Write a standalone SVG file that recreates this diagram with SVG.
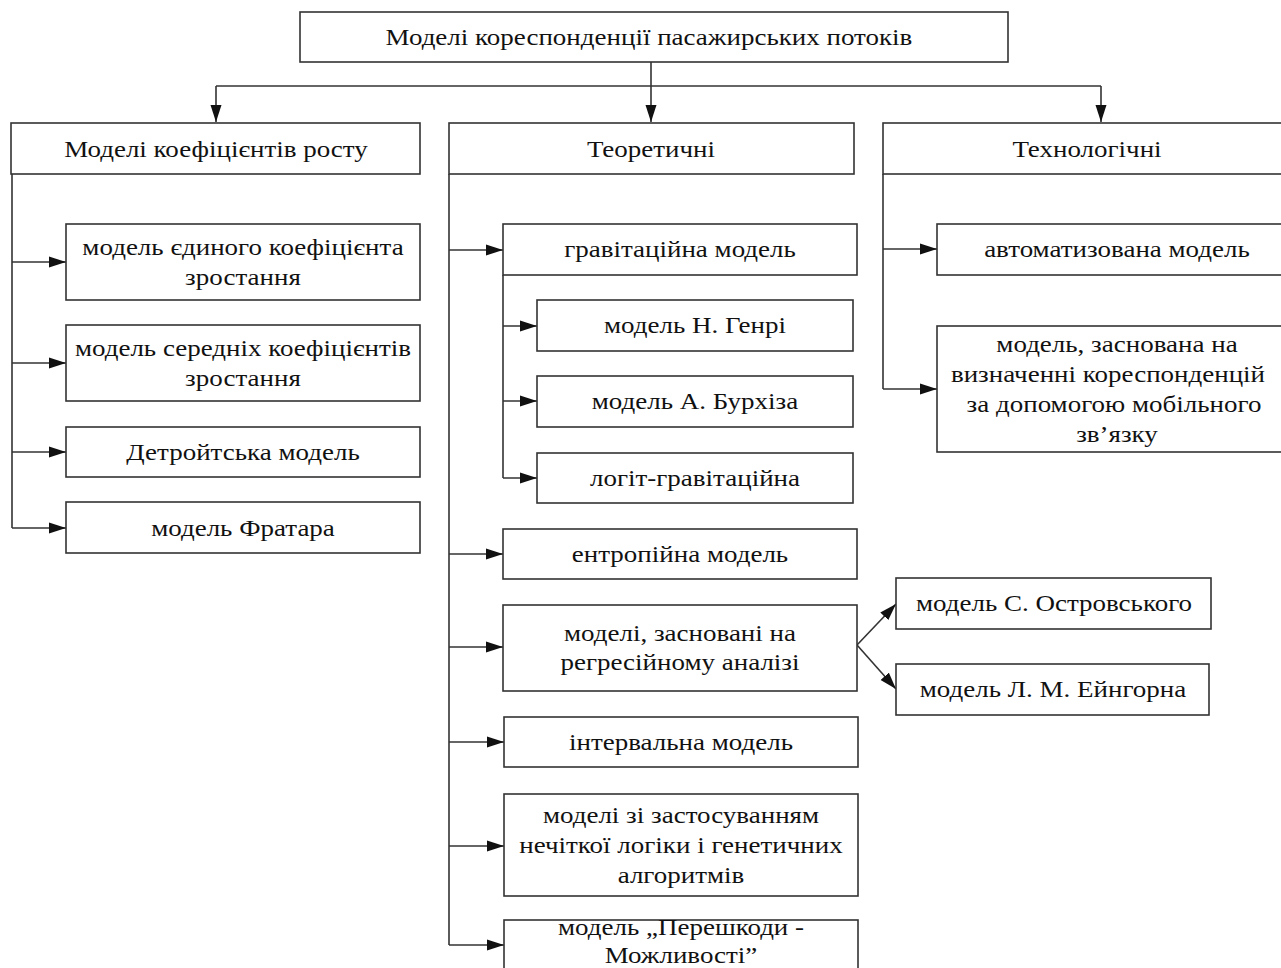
<svg xmlns="http://www.w3.org/2000/svg" width="1281" height="968" viewBox="0 0 1281 968">
<style>
.b{fill:#fff;stroke:#333;stroke-width:1.6}
.t{font-family:"Liberation Serif","Times New Roman",serif;font-size:24px;fill:#111;text-anchor:middle;transform-box:fill-box;transform-origin:center;transform:scaleX(1.125)}
.c{fill:none;stroke:#333;stroke-width:1.6}
</style>
<defs>
<marker id="a" markerUnits="userSpaceOnUse" markerWidth="18" markerHeight="12" refX="17" refY="6" orient="auto" viewBox="0 0 18 12">
<path d="M0,0.5 L17,6 L0,11.5 z" fill="#111"/>
</marker>
</defs>
<rect width="1281" height="968" fill="#fff"/>
<g id="connectors" class="c">
<path d="M651,62 V122" marker-end="url(#a)"/>
<path d="M216,86 H1101"/>
<path d="M216,86 V122" marker-end="url(#a)"/>
<path d="M1101,86 V122" marker-end="url(#a)"/>
<path d="M12,174 V528"/>
<path d="M12,262 H66" marker-end="url(#a)"/>
<path d="M12,363 H66" marker-end="url(#a)"/>
<path d="M12,452 H66" marker-end="url(#a)"/>
<path d="M12,528 H66" marker-end="url(#a)"/>
<path d="M449,174 V945"/>
<path d="M449,250 H503" marker-end="url(#a)"/>
<path d="M449,554 H503" marker-end="url(#a)"/>
<path d="M449,647 H503" marker-end="url(#a)"/>
<path d="M449,742 H504" marker-end="url(#a)"/>
<path d="M449,846 H504" marker-end="url(#a)"/>
<path d="M449,945 H504" marker-end="url(#a)"/>
<path d="M503,275 V478"/>
<path d="M503,326 H537" marker-end="url(#a)"/>
<path d="M503,401 H537" marker-end="url(#a)"/>
<path d="M503,478 H537" marker-end="url(#a)"/>
<path d="M883,174 V389"/>
<path d="M883,249 H937" marker-end="url(#a)"/>
<path d="M883,389 H937" marker-end="url(#a)"/>
<path d="M857,645 L896,604" marker-end="url(#a)"/>
<path d="M857,645 L896,689" marker-end="url(#a)"/>
</g>
<g id="root"><rect class="b" x="300" y="12" width="708" height="50"/><text class="t" x="649" y="45">Моделі кореспонденції пасажирських потоків</text></g>
<g id="growth"><rect class="b" x="11" y="123" width="409" height="51"/><text class="t" x="216" y="157">Моделі коефіцієнтів росту</text></g>
<g id="theory"><rect class="b" x="449" y="123" width="405" height="51"/><text class="t" x="651" y="157">Теоретичні</text></g>
<g id="tech"><rect class="b" x="883" y="123" width="410" height="51"/><text class="t" x="1087" y="157">Технологічні</text></g>
<g id="g1"><rect class="b" x="66" y="224" width="354" height="76"/><text class="t" x="243" y="255">модель єдиного коефіцієнта</text><text class="t" x="243" y="285">зростання</text></g>
<g id="g2"><rect class="b" x="66" y="325" width="354" height="76"/><text class="t" x="243" y="356">модель середніх коефіцієнтів</text><text class="t" x="243" y="386">зростання</text></g>
<g id="g3"><rect class="b" x="66" y="427" width="354" height="50"/><text class="t" x="243" y="460">Детройтська модель</text></g>
<g id="g4"><rect class="b" x="66" y="502" width="354" height="51"/><text class="t" x="243" y="536">модель Фратара</text></g>
<g id="t1"><rect class="b" x="503" y="224" width="354" height="51"/><text class="t" x="680" y="257">гравітаційна модель</text></g>
<g id="t1a"><rect class="b" x="537" y="300" width="316" height="51"/><text class="t" x="695" y="333">модель Н. Генрі</text></g>
<g id="t1b"><rect class="b" x="537" y="376" width="316" height="51"/><text class="t" x="695" y="409">модель А. Бурхіза</text></g>
<g id="t1c"><rect class="b" x="537" y="453" width="316" height="50"/><text class="t" x="695" y="486">логіт-гравітаційна</text></g>
<g id="t2"><rect class="b" x="503" y="529" width="354" height="50"/><text class="t" x="680" y="562">ентропійна модель</text></g>
<g id="t3"><rect class="b" x="503" y="605" width="354" height="86"/><text class="t" x="680" y="641">моделі, засновані на</text><text class="t" x="680" y="670">регресійному аналізі</text></g>
<g id="t3a"><rect class="b" x="896" y="578" width="315" height="51"/><text class="t" x="1054" y="611">модель С. Островського</text></g>
<g id="t3b"><rect class="b" x="896" y="664" width="313" height="51"/><text class="t" x="1053" y="697">модель Л. М. Ейнгорна</text></g>
<g id="t4"><rect class="b" x="504" y="717" width="354" height="50"/><text class="t" x="681" y="750">інтервальна модель</text></g>
<g id="t5"><rect class="b" x="504" y="794" width="354" height="102"/><text class="t" x="681" y="823">моделі зі застосуванням</text><text class="t" x="681" y="853">нечіткої логіки і генетичних</text><text class="t" x="681" y="883">алгоритмів</text></g>
<g id="t6"><rect class="b" x="504" y="920" width="354" height="80"/><text class="t" x="681" y="935">модель „Перешкоди -</text><text class="t" x="681" y="963">Можливості”</text></g>
<g id="k1"><rect class="b" x="937" y="224" width="358" height="51"/><text class="t" x="1117" y="257">автоматизована модель</text></g>
<g id="k2"><rect class="b" x="937" y="326" width="358" height="126"/><text class="t" x="1117" y="352">модель, заснована на</text><text class="t" x="1108" y="382">визначенні кореспонденцій</text><text class="t" x="1114" y="412">за допомогою мобільного</text><text class="t" x="1117" y="442">зв’язку</text></g>
</svg>
